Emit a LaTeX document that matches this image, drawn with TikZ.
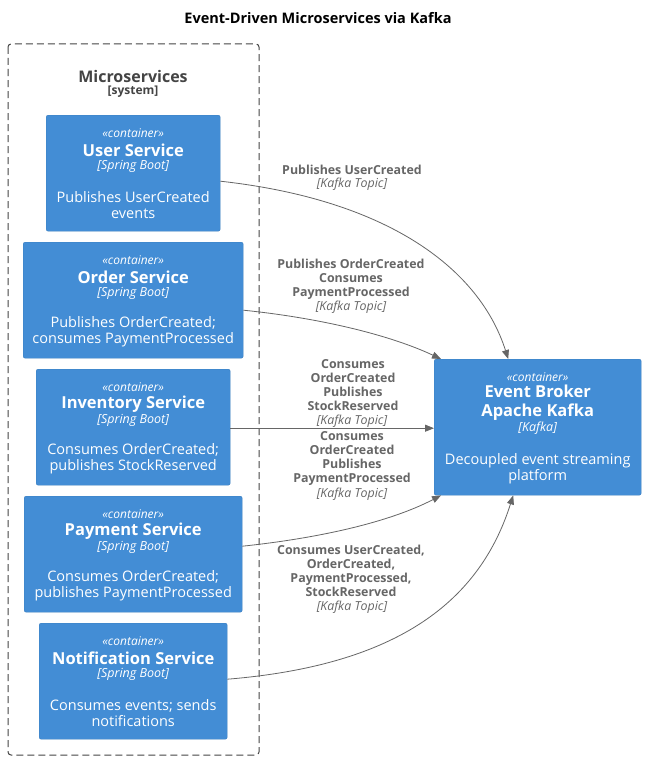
\documentclass[tikz,border=0pt]{standalone}
\usepackage{fontspec}
\setmainfont{Open Sans}
\usetikzlibrary{arrows.meta}
\definecolor{cfill}{HTML}{438DD5}
\definecolor{cline}{HTML}{3C7FC0}
\definecolor{lbl}{HTML}{666666}
\definecolor{bnd}{HTML}{444444}
\tikzset{
  cbox/.style={draw=cline, fill=cfill, rounded corners=2pt, inner sep=0pt, anchor=north west},
  stereo/.style={text=white, font=\fontsize{12}{14}\selectfont\itshape, inner sep=0pt},
  ctitle/.style={text=white, font=\fontsize{16.5}{19}\selectfont\bfseries, inner sep=0pt, align=center},
  ctech/.style={text=white, font=\fontsize{12.5}{14}\selectfont\itshape, inner sep=0pt},
  cdesc/.style={text=white, font=\fontsize{14.5}{16}\selectfont, inner sep=0pt, align=center},
  elabel/.style={text=lbl, font=\fontsize{12.4}{14}\selectfont\bfseries, inner sep=0pt, align=center},
  etech/.style={text=lbl, font=\fontsize{12.4}{14}\selectfont\itshape, inner sep=0pt},
  rel/.style={draw=lbl, line width=0.8pt, -{Triangle[length=9pt,width=7pt]}, fill=none},
}
\begin{document}
\begin{tikzpicture}[x=1pt,y=-1pt]
\useasboundingbox[fill=white] (0,0) rectangle (646,760);
\node[font=\fontsize{14.5}{16}\selectfont\bfseries, inner sep=0pt] (title) at (318,18) {Event-Driven Microservices via Kafka};
% boundary
\draw[draw=bnd, line width=1pt, dash pattern=on 7pt off 4pt, rounded corners=3pt] (8,44) rectangle (259,755);
\node[text=bnd, font=\fontsize{16}{19}\selectfont\bfseries, inner sep=0pt] (ms) at (133,76) {Microservices};
\node[text=bnd, font=\fontsize{12}{13}\selectfont\bfseries, inner sep=0pt] (mss) at (133,92) {[system]};
% user
\node[cbox, minimum width=174pt, minimum height=116pt] (user) at (46,115) {};
\node[stereo] (user-s) at ([yshift=-18pt]user.north) {«container»};
\node[ctitle] (user-t) at ([yshift=-35pt]user.north) {User Service};
\node[ctech] (user-k) at ([yshift=-51pt]user.north) {[Spring Boot]};
\node[cdesc] (user-d) at ([yshift=-90pt]user.north) {Publishes UserCreated\\events};
% order
\node[cbox, minimum width=220pt, minimum height=116pt] (order) at (23,242) {};
\node[stereo] (order-s) at ([yshift=-18pt]order.north) {«container»};
\node[ctitle] (order-t) at ([yshift=-35pt]order.north) {Order Service};
\node[ctech] (order-k) at ([yshift=-51pt]order.north) {[Spring Boot]};
\node[cdesc] (order-d) at ([yshift=-90pt]order.north) {Publishes OrderCreated;\\consumes PaymentProcessed};
% inventory
\node[cbox, minimum width=194pt, minimum height=116pt] (inv) at (36,369) {};
\node[stereo] (inv-s) at ([yshift=-18pt]inv.north) {«container»};
\node[ctitle] (inv-t) at ([yshift=-35pt]inv.north) {Inventory Service};
\node[ctech] (inv-k) at ([yshift=-51pt]inv.north) {[Spring Boot]};
\node[cdesc] (inv-d) at ([yshift=-90pt]inv.north) {Consumes OrderCreated;\\publishes StockReserved};
% payment
\node[cbox, minimum width=218pt, minimum height=116pt] (pay) at (24,496) {};
\node[stereo] (pay-s) at ([yshift=-18pt]pay.north) {«container»};
\node[ctitle] (pay-t) at ([yshift=-35pt]pay.north) {Payment Service};
\node[ctech] (pay-k) at ([yshift=-51pt]pay.north) {[Spring Boot]};
\node[cdesc] (pay-d) at ([yshift=-90pt]pay.north) {Consumes OrderCreated;\\publishes PaymentProcessed};
% notification
\node[cbox, minimum width=188pt, minimum height=116pt] (notif) at (39,623) {};
\node[stereo] (notif-s) at ([yshift=-18pt]notif.north) {«container»};
\node[ctitle] (notif-t) at ([yshift=-35pt]notif.north) {Notification Service};
\node[ctech] (notif-k) at ([yshift=-51pt]notif.north) {[Spring Boot]};
\node[cdesc] (notif-d) at ([yshift=-90pt]notif.north) {Consumes events; sends\\notifications};
% kafka
\node[cbox, minimum width=207pt, minimum height=136pt] (kafka) at (434,359) {};
\node[stereo] (kafka-s) at ([yshift=-18pt]kafka.north) {«container»};
\node[ctitle] (kafka-t) at ([yshift=-43.5pt]kafka.north) {Event Broker\\Apache Kafka};
\node[ctech] (kafka-k) at ([yshift=-69pt]kafka.north) {[Kafka]};
\node[cdesc] (kafka-d) at ([yshift=-110pt]kafka.north) {Decoupled event streaming\\platform};
% relations
\draw[rel] ([yshift=-8pt]user.east) .. controls (390,200) and (480,270) .. ([xshift=-29.5pt]kafka.north);
\draw[rel] ([yshift=-10pt]order.east) .. controls (320,318) and (390,335) .. ([xshift=7pt]kafka.north west);
\draw[rel] ([yshift=-1pt]inv.east) -- ([yshift=-1pt]kafka.west);
\draw[rel] ([yshift=8pt]pay.east) .. controls (320,538) and (390,522) .. ([xshift=7pt]kafka.south west);
\draw[rel] ([yshift=2pt]notif.east) .. controls (400,665) and (480,600) .. ([xshift=-24.5pt]kafka.south);
% labels
\node[elabel] (l1) at (352,170) {Publishes UserCreated};
\node[etech] (l1k) at (352,184) {[Kafka Topic]};
\node[elabel] (l2) at (351,279) {Publishes OrderCreated\\Consumes\\PaymentProcessed};
\node[etech] (l2k) at (351,307) {[Kafka Topic]};
\node[elabel] (l3) at (353,385) {Consumes\\OrderCreated\\Publishes\\StockReserved};
\node[etech] (l3k) at (352,421) {[Kafka Topic]};
\node[elabel] (l4) at (352,458) {Consumes\\OrderCreated\\Publishes\\PaymentProcessed};
\node[etech] (l4k) at (352,494) {[Kafka Topic]};
\node[elabel] (l5) at (351,571) {Consumes UserCreated,\\OrderCreated,\\PaymentProcessed,\\StockReserved};
\node[etech] (l5k) at (352,607) {[Kafka Topic]};
\end{tikzpicture}
\end{document}
